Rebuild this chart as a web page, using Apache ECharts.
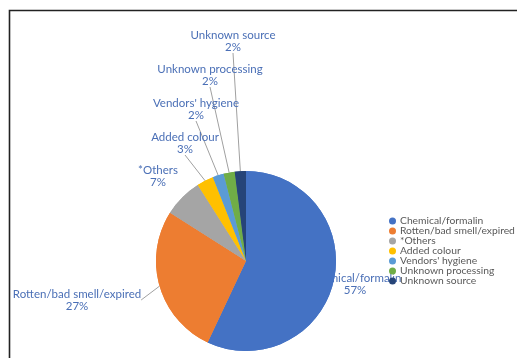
<!DOCTYPE html>
<html><head><meta charset="utf-8">
<script src="https://cdn.jsdelivr.net/npm/echarts@6/dist/echarts.min.js"></script>
<style>html,body{margin:0;padding:0;background:#fff}#c{width:517px;height:358px}</style>
</head><body><div id="c"></div>
<script>
const categories = ["Chemical/formalin","Rotten/bad smell/expired","*Others","Added colour","Vendors' hygiene","Unknown processing","Unknown source"];
const values = [57,27,7,3,2,2,2];
const colors = ["#4472C4","#ED7D31","#A5A5A5","#FFC000","#5B9BD5","#70AD47","#264478"];
// label anchor positions (centre of label text)
const labelPos = [[355,284],[77,300],[158,176],[185,143],[196,109],[210,75],[233,41]];
const noLine = [0,2];

const data = categories.map((n,i)=>({
  name:n, value:values[i], itemStyle:{color:colors[i]},
  labelLine:{show: noLine.indexOf(i)<0}
}));
const chart = echarts.init(document.getElementById('c'));
const center=[246,261], radius=90;
chart.setOption({
  animation:false,
  graphic:[{type:'rect',left:7,top:8,shape:{width:600,height:400},style:{fill:'none',stroke:'#222',lineWidth:1.6},z:100}],
  legend:{
    orient:'vertical', left:384, top:211, itemWidth:7, itemHeight:7, itemGap:0, icon:'circle',
    textStyle:{fontFamily:'Lato',fontSize:10.3,lineHeight:9.8,color:'#595959',padding:[0,0,0,-1]},
    data:categories
  },
  series:[
    {type:'pie', z:1, center:center, radius:radius, startAngle:90, clockwise:true, data:data,
     label:{show:true, formatter:'{b}\n{d}%', fontFamily:'Lato', fontSize:11.5, lineHeight:12, color:'#4a6fb6', align:'center', overflow:'none'},
     labelLine:{show:true, length:5, length2:0, lineStyle:{color:'#a0a0a0',width:1}},
     labelLayout:function(p){const q=labelPos[p.dataIndex];return {x:q[0],y:q[1],align:'center',verticalAlign:'middle'};}
    },
    {type:'pie', z:2, silent:true, center:center, radius:radius, startAngle:90, clockwise:true,
     data:data.map(d=>({name:d.name,value:d.value,itemStyle:d.itemStyle})),
     label:{show:false}, labelLine:{show:false}}
  ]
});
</script></body></html>
